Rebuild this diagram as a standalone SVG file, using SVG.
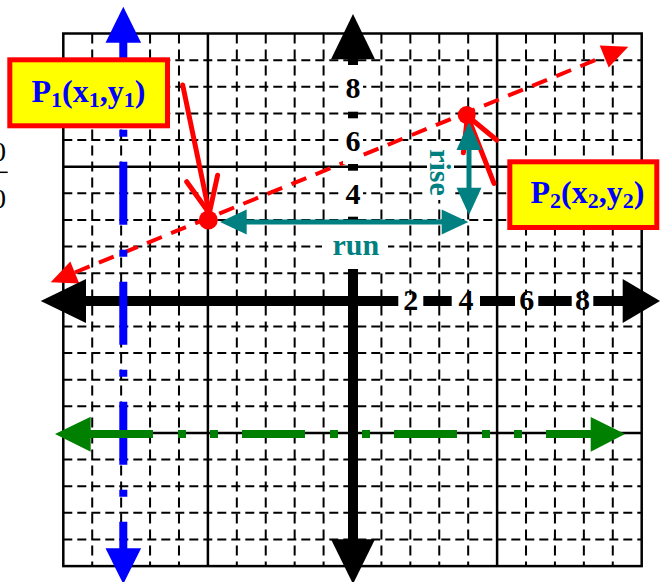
<svg xmlns="http://www.w3.org/2000/svg" width="660" height="582" viewBox="0 0 660 582">
<style>
.gh{stroke:#000;stroke-width:2;stroke-dasharray:9 5;fill:none}
.gv{stroke:#000;stroke-width:2;stroke-dasharray:10 6;fill:none}
.maj{stroke:#000;stroke-width:2.5;fill:none}
.num{font-family:"Liberation Serif","Times New Roman",serif;font-weight:bold;font-size:30px;fill:#000;text-anchor:middle}
.teal{font-family:"Liberation Serif","Times New Roman",serif;font-weight:bold;font-size:30px;fill:#008080;text-anchor:middle}
.lbl{font-family:"Liberation Serif","Times New Roman",serif;font-weight:bold;font-size:32px;fill:#0000FF;text-anchor:middle}
.box{fill:#FFFF00;stroke:#FF0000;stroke-width:5}
.wb{fill:#fff}
.red{stroke:#FF0000;stroke-width:5;fill:none;stroke-linecap:round;stroke-linejoin:round}
</style>
<rect width="660" height="582" fill="#fff"/>

<!-- clipped fragments at left edge -->
<g id="edge-fragment">
<text x="6" y="161" font-family="Liberation Serif, serif" font-size="28" text-anchor="end">0</text>
<line x1="0" y1="172.3" x2="7.7" y2="172.3" stroke="#000" stroke-width="1.5"/>
<text x="6" y="208" font-family="Liberation Serif, serif" font-size="28" text-anchor="end">0</text>
</g>

<g id="grid">
<g class="gv">
<line x1="92.22" y1="33.5" x2="92.22" y2="566.1"/>
<line x1="121.14" y1="33.5" x2="121.14" y2="566.1"/>
<line x1="150.06" y1="33.5" x2="150.06" y2="566.1"/>
<line x1="178.98" y1="33.5" x2="178.98" y2="566.1"/>
<line x1="236.82" y1="33.5" x2="236.82" y2="566.1"/>
<line x1="265.74" y1="33.5" x2="265.74" y2="566.1"/>
<line x1="294.66" y1="33.5" x2="294.66" y2="566.1"/>
<line x1="323.58" y1="33.5" x2="323.58" y2="566.1"/>
<line x1="381.42" y1="33.5" x2="381.42" y2="566.1"/>
<line x1="410.34" y1="33.5" x2="410.34" y2="566.1"/>
<line x1="439.26" y1="33.5" x2="439.26" y2="566.1"/>
<line x1="468.18" y1="33.5" x2="468.18" y2="566.1"/>
<line x1="526.02" y1="33.5" x2="526.02" y2="566.1"/>
<line x1="554.94" y1="33.5" x2="554.94" y2="566.1"/>
<line x1="583.86" y1="33.5" x2="583.86" y2="566.1"/>
<line x1="612.78" y1="33.5" x2="612.78" y2="566.1"/>
</g>
<g class="gh">
<line x1="63.3" y1="60.13" x2="641.7" y2="60.13"/>
<line x1="63.3" y1="86.76" x2="641.7" y2="86.76"/>
<line x1="63.3" y1="113.39" x2="641.7" y2="113.39"/>
<line x1="63.3" y1="140.02" x2="641.7" y2="140.02"/>
<line x1="63.3" y1="193.28" x2="641.7" y2="193.28"/>
<line x1="63.3" y1="219.91" x2="641.7" y2="219.91"/>
<line x1="63.3" y1="246.54" x2="641.7" y2="246.54"/>
<line x1="63.3" y1="273.17" x2="641.7" y2="273.17"/>
<line x1="63.3" y1="326.43" x2="641.7" y2="326.43"/>
<line x1="63.3" y1="353.06" x2="641.7" y2="353.06"/>
<line x1="63.3" y1="379.69" x2="641.7" y2="379.69"/>
<line x1="63.3" y1="406.32" x2="641.7" y2="406.32"/>
<line x1="63.3" y1="459.58" x2="641.7" y2="459.58"/>
<line x1="63.3" y1="486.21" x2="641.7" y2="486.21"/>
<line x1="63.3" y1="512.84" x2="641.7" y2="512.84"/>
<line x1="63.3" y1="539.47" x2="641.7" y2="539.47"/>
</g>
<g class="maj">
<line x1="207.9" y1="33.5" x2="207.9" y2="566.1"/>
<line x1="352.5" y1="33.5" x2="352.5" y2="566.1"/>
<line x1="497.1" y1="33.5" x2="497.1" y2="566.1"/>
<line x1="63.3" y1="166.65" x2="641.7" y2="166.65"/>
<line x1="63.3" y1="299.8" x2="641.7" y2="299.8"/>
<line x1="63.3" y1="432.95" x2="641.7" y2="432.95"/>
<rect x="63.3" y="33.5" width="578.4" height="532.6"/>
</g>
</g>

<g id="red-line">
<line x1="74.8" y1="272.5" x2="604.2" y2="56.5" stroke="#FF0000" stroke-width="4" stroke-dasharray="16 10"/>
<polygon points="50.7,282.3 79.3,283.6 70.3,261.4" fill="#FF0000"/>
<polygon points="628.3,46.7 599.7,45.4 608.7,67.6" fill="#FF0000"/>
</g>

<g id="axes">
<line x1="84" y1="301" x2="625" y2="301" stroke="#000" stroke-width="10"/>
<polygon points="40.7,301 86,279 86,323" fill="#000"/>
<polygon points="660,301 622.7,279 622.7,323" fill="#000"/>
<line x1="353" y1="57" x2="353" y2="542" stroke="#000" stroke-width="10"/>
<polygon points="353,14 331,59.3 375,59.3" fill="#000"/>
<polygon points="353,584 331,539.3 375,539.3" fill="#000"/>
</g>

<g id="axis-labels">
<rect class="wb" x="343" y="65" width="20" height="46.7"/>
<rect class="wb" x="343" y="118.3" width="20" height="45.7"/>
<rect class="wb" x="343" y="170.7" width="20" height="46"/>
<rect class="wb" x="322" y="224" width="66" height="45"/>
<rect class="wb" x="398.3" y="295" width="25" height="12"/>
<rect class="wb" x="451.7" y="295" width="28.3" height="12"/>
<rect class="wb" x="515" y="295" width="23.3" height="12"/>
<rect class="wb" x="571.7" y="295" width="21.6" height="12"/>
<text class="num" x="353" y="97.5">8</text>
<text class="num" x="353" y="150.7">6</text>
<text class="num" x="353" y="204">4</text>
<text class="num" x="410.8" y="310">2</text>
<text class="num" x="466" y="310">4</text>
<text class="num" x="526.7" y="310">6</text>
<text class="num" x="582.5" y="310">8</text>
</g>

<g id="blue-line">
<line x1="123.3" y1="41.7" x2="123.3" y2="549" stroke="#0000FF" stroke-width="8" stroke-dasharray="63 25 7 25"/>
<polygon points="123.3,6.7 105.5,42.7 141.1,42.7" fill="#0000FF"/>
<polygon points="123.3,584 105.5,548.3 141.1,548.3" fill="#0000FF"/>
</g>

<g id="green-line">
<line x1="90" y1="434" x2="591" y2="434" stroke="#008000" stroke-width="8" stroke-dasharray="63 25 8 24 8 24"/>
<polygon points="55,434 90.7,416.7 90.7,451.7" fill="#008000"/>
<polygon points="625,434 590.7,417 590.7,451.7" fill="#008000"/>
</g>

<g id="rise-label">
<rect class="wb" x="427" y="145" width="27" height="55"/>
<text class="teal" transform="translate(430,172.5) rotate(90)">rise</text>
</g>
<g id="run-label">
<text class="teal" x="355.8" y="255">run</text>
</g>

<g id="connectors">
<polyline class="red" points="182.7,85 209.3,213.3"/>
<polyline class="red" points="186.7,181.7 209.3,213.3 217.6,175.2"/>
<polyline class="red" points="494,183.3 467.5,116"/>
<polyline class="red" points="496.7,140 467.5,116 463.4,152.7"/>
</g>

<g id="run-arrow">
<line x1="244" y1="222" x2="444" y2="222" stroke="#008080" stroke-width="5"/>
<polygon points="220,222 246.7,209.5 246.7,234.5" fill="#008080"/>
<polygon points="468.3,222 441.7,209.5 441.7,234.5" fill="#008080"/>
</g>
<g id="rise-arrow">
<line x1="469" y1="148" x2="469" y2="190" stroke="#008080" stroke-width="5"/>
<polygon points="469,121.7 456.5,150 481.5,150" fill="#008080"/>
<polygon points="469,215 456.5,187.7 481.5,187.7" fill="#008080"/>
</g>

<g id="points">
<circle cx="208.3" cy="220" r="9.5" fill="#FF0000"/>
<circle cx="466.7" cy="115" r="9" fill="#FF0000"/>
</g>

<g id="P1">
<rect class="box" x="9.8" y="59.8" width="157.7" height="66"/>
<text class="lbl" x="88.5" y="101.5">P<tspan font-size="22" dy="5">1</tspan><tspan dy="-5">(x</tspan><tspan font-size="22" dy="5">1</tspan><tspan dy="-5">,y</tspan><tspan font-size="22" dy="5">1</tspan><tspan dy="-5">)</tspan></text>
</g>
<g id="P2">
<rect class="box" x="509.8" y="161.8" width="147" height="65.7"/>
<text class="lbl" x="587.5" y="203.3">P<tspan font-size="22" dy="5">2</tspan><tspan dy="-5">(x</tspan><tspan font-size="22" dy="5">2</tspan><tspan dy="-5">,y</tspan><tspan font-size="22" dy="5">2</tspan><tspan dy="-5">)</tspan></text>
</g>
</svg>
